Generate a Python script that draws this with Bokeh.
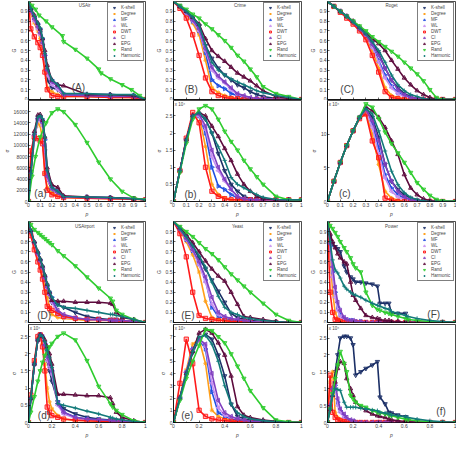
import math
from bokeh.plotting import figure
from bokeh.layouts import row, column
from bokeh.models import FixedTicker, CustomJSTickFormatter, Label, Legend, LegendItem
from bokeh.embed import file_html
from bokeh.resources import INLINE

METHODS = ["K-shell", "Degree", "MF", "WL", "DWT", "CI", "EPG", "Rand", "Harmonic"]
COLORS = {"K-shell": "#1b2f66", "Degree": "#ff9f1a", "MF": "#1f4fe0", "WL": "#c68ff0",
          "DWT": "#ff1a1a", "CI": "#8040c0", "EPG": "#5c0a3c", "Rand": "#2ecc2e", "Harmonic": "#137a7a"}
MARKERS = {"K-shell": "inverted_triangle", "Degree": "asterisk", "MF": "triangle", "WL": "triangle",
           "DWT": "square", "CI": "triangle", "EPG": "triangle", "Rand": "inverted_triangle", "Harmonic": "cross"}
ANGLES = {"K-shell": 0, "Degree": 0, "MF": -math.pi / 2, "WL": math.pi / 2, "DWT": 0,
          "CI": math.pi / 2, "EPG": 0, "Rand": 0, "Harmonic": 0}

G_TICKS = [0, 0.1, 0.2, 0.3, 0.4, 0.5, 0.6, 0.7, 0.8, 0.9]
X_ALL = [0, 0.1, 0.2, 0.3, 0.4, 0.5, 0.6, 0.7, 0.8, 0.9, 1]
X_EVEN = [0, 0.2, 0.4, 0.6, 0.8, 1]
X_ODD = [0.1, 0.3, 0.5, 0.7, 0.9]

# ---------------- USAir ----------------
usair_p = [0, .02, .05, .08, .1, .12, .14, .16, .2, .25, .3, .5, .7, .9, 1]
usair_rand_G_p = [0, .03, .06, .09, .15, .2, .29, .3, .4, .5, .6, .62, .7, .8, .88, .95, 1]
usair_rand_s_p = [0, .03, .06, .1, .15, .2, .25, .3, .4, .5, .6, .7, .8, .9, 1]
usair_G = {
    "K-shell": [1, .9, .82, .75, .68, .55, .4, .2, .12, .1, .04, .03, .03, .02, 0],
    "Degree": [1, .88, .78, .7, .62, .5, .3, .12, .08, .05, .03, .03, .02, .02, 0],
    "MF": [1, .92, .84, .77, .72, .62, .45, .3, .2, .15, .06, .05, .05, .04, 0],
    "WL": [1, .9, .8, .72, .66, .56, .42, .25, .15, .1, .05, .04, .03, .03, 0],
    "DWT": [1, .72, .64, .58, .53, .45, .28, .1, .04, .03, .03, .03, .02, .02, 0],
    "CI": [1, .9, .82, .74, .68, .58, .45, .3, .18, .13, .05, .04, .03, .03, 0],
    "EPG": [1, .93, .86, .78, .72, .62, .5, .35, .2, .15, .14, .05, .05, .04, 0],
    "Rand": [1, .96, .92, .86, .8, .74, .65, .59, .51, .42, .31, .27, .21, .15, .1, .04, 0],
    "Harmonic": [1, .93, .85, .78, .73, .63, .47, .32, .2, .15, .06, .06, .05, .05, 0],
}
usair_s = {
    "K-shell": [0, 5000, 11000, 14500, 15000, 14000, 9000, 4000, 2000, 1500, 800, 700, 600, 500, 300],
    "Degree": [0, 6000, 12000, 14000, 13500, 11000, 5000, 2500, 1500, 1000, 700, 600, 500, 400, 300],
    "MF": [0, 5500, 12000, 15000, 15200, 14500, 11000, 5000, 2500, 1800, 900, 800, 700, 500, 300],
    "WL": [0, 5000, 11500, 14500, 14800, 13500, 9000, 4000, 2200, 1500, 800, 700, 600, 500, 300],
    "DWT": [0, 9000, 11500, 11200, 10800, 10300, 5000, 2000, 1200, 900, 700, 600, 500, 400, 300],
    "CI": [0, 5200, 11800, 14800, 15000, 14000, 10000, 4500, 2300, 1600, 800, 700, 600, 500, 300],
    "EPG": [0, 5500, 12500, 15400, 15500, 14500, 11500, 6000, 3000, 2500, 1000, 800, 700, 500, 300],
    "Rand": [0, 4500, 8000, 11500, 14000, 15800, 16500, 16000, 13700, 10500, 7000, 4000, 1800, 600, 300],
    "Harmonic": [0, 5000, 12000, 15000, 15300, 14800, 11500, 5500, 2500, 1800, 900, 800, 700, 500, 300],
}
usair_s_ticks = [0, 2000, 4000, 6000, 8000, 10000, 12000, 14000, 16000]

# ---------------- Crime ----------------
crime_p = [0, .05, .1, .15, .2, .25, .3, .35, .4, .45, .5, .55, .6, .65, .7, .8, .9, 1]
crime_G = {
    "K-shell": [1, .95, .89, .83, .75, .55, .42, .32, .25, .2, .15, .12, .08, .05, .03, .01, 0, 0],
    "Degree": [1, .94, .87, .78, .66, .4, .12, .07, .04, .02, .01, .01, .01, 0, 0, 0, 0, 0],
    "MF": [1, .95, .88, .8, .7, .48, .2, .14, .11, .06, .04, .02, .01, .01, 0, 0, 0, 0],
    "WL": [1, .95, .88, .8, .7, .5, .3, .22, .17, .1, .05, .03, .02, .01, .01, 0, 0, 0],
    "DWT": [1, .93, .83, .66, .45, .22, .08, .04, .02, .01, .01, 0, 0, 0, 0, 0, 0, 0],
    "CI": [1, .95, .89, .81, .72, .52, .33, .24, .18, .12, .06, .04, .02, .01, .01, 0, 0, 0],
    "EPG": [1, .95, .9, .84, .77, .62, .5, .44, .39, .33, .27, .23, .19, .14, .09, .03, .01, 0],
    "Rand": [1, .96, .92, .87, .83, .77, .72, .66, .6, .53, .45, .39, .31, .23, .13, .06, .03, 0],
    "Harmonic": [1, .95, .9, .84, .76, .56, .38, .3, .25, .21, .18, .15, .12, .09, .07, .04, .02, 0],
}
crime_s = {
    "K-shell": [0, .9, 1.8, 2.5, 2.55, 2.4, 2.0, 1.4, .9, .5, .3, .15, .08, .05, .05, .05, .05, .05],
    "Degree": [0, .9, 1.8, 2.5, 2.5, 1.6, .5, .2, .1, .05, .05, .05, .05, .05, .05, .05, .05, .05],
    "MF": [0, .9, 1.8, 2.5, 2.5, 2.0, 1.0, .45, .35, .2, .1, .06, .05, .05, .05, .05, .05, .05],
    "WL": [0, .9, 1.8, 2.5, 2.5, 2.1, 1.3, .9, .6, .35, .15, .08, .05, .05, .05, .05, .05, .05],
    "DWT": [0, .9, 1.85, 2.6, 2.3, 1.0, .3, .15, .08, .05, .05, .05, .05, .05, .05, .05, .05, .05],
    "CI": [0, .9, 1.8, 2.5, 2.55, 2.2, 1.5, 1.0, .65, .35, .15, .08, .05, .05, .05, .05, .05, .05],
    "EPG": [0, .9, 1.8, 2.5, 2.6, 2.5, 2.2, 1.9, 1.55, 1.2, .8, .5, .3, .15, .08, .05, .05, .05],
    "Rand": [0, .85, 1.7, 2.4, 2.7, 2.8, 2.7, 2.4, 2.05, 1.75, 1.5, 1.2, .95, .72, .5, .15, .05, .05],
    "Harmonic": [0, .9, 1.8, 2.5, 2.6, 2.4, 2.0, 1.6, 1.2, .7, .5, .4, .3, .2, .12, .06, .05, .05],
}
crime_s_ticks = [0, 0.5, 1, 1.5, 2, 2.5]

# ---------------- Roget ----------------
roget_p = [0, .05, .1, .15, .2, .25, .3, .35, .4, .45, .5, .55, .6, .65, .7, .75, .8, .85, .9, 1]
roget_G = {
    "K-shell": [1, .95, .9, .85, .79, .73, .67, .58, .47, .32, .2, .12, .06, .03, .01, 0, 0, 0, 0, 0],
    "Degree": [1, .95, .89, .84, .78, .71, .63, .5, .32, .12, .04, .02, .01, 0, 0, 0, 0, 0, 0, 0],
    "MF": [1, .95, .9, .85, .79, .72, .65, .54, .4, .25, .14, .07, .04, .02, .01, 0, 0, 0, 0, 0],
    "WL": [1, .95, .9, .85, .79, .72, .65, .53, .38, .22, .12, .06, .03, .01, 0, 0, 0, 0, 0, 0],
    "DWT": [1, .95, .89, .83, .77, .7, .61, .45, .28, .08, .02, .01, 0, 0, 0, 0, 0, 0, 0, 0],
    "CI": [1, .95, .9, .85, .79, .72, .66, .56, .45, .32, .2, .1, .05, .02, .01, 0, 0, 0, 0, 0],
    "EPG": [1, .95, .9, .85, .8, .74, .68, .62, .57, .5, .4, .31, .22, .15, .09, .05, .02, 0, 0, 0],
    "Rand": [1, .95, .9, .85, .8, .75, .7, .64, .59, .54, .49, .44, .38, .32, .26, .19, .1, .02, 0, 0],
    "Harmonic": [1, .95, .9, .85, .79, .73, .67, .59, .5, .38, .25, .15, .09, .05, .03, .01, 0, 0, 0, 0],
}
roget_s = {
    "K-shell": [0, 3, 5.8, 8.3, 10.5, 12.5, 13.8, 12.5, 9.5, 5.5, 3, 1.8, 1, .5, .2, 0, 0, 0, 0, 0],
    "Degree": [0, 3, 5.8, 8.3, 10.5, 12.3, 13.2, 10, 5.5, 1.5, .5, .2, 0, 0, 0, 0, 0, 0, 0, 0],
    "MF": [0, 3, 5.8, 8.3, 10.5, 12.4, 13.5, 11.5, 8, 4, 2, 1, .5, .2, 0, 0, 0, 0, 0, 0],
    "WL": [0, 3, 5.8, 8.3, 10.5, 12.4, 13.5, 11, 7, 3.5, 1.5, .7, .3, .1, 0, 0, 0, 0, 0, 0],
    "DWT": [0, 3, 5.8, 8.3, 10.5, 12.3, 13, 9, 6.5, .5, .2, 0, 0, 0, 0, 0, 0, 0, 0, 0],
    "CI": [0, 3, 5.8, 8.3, 10.5, 12.5, 13.7, 12, 9, 5.5, 3, 1.5, .7, .3, .1, 0, 0, 0, 0, 0],
    "EPG": [0, 3, 5.8, 8.3, 10.5, 12.5, 14, 13.5, 12.5, 11, 9, 7, 4, 2, 1, .4, .1, 0, 0, 0],
    "Rand": [0, 3, 5.8, 8.3, 10.5, 12.5, 14.5, 14, 12.3, 10.3, 8.6, 7.2, 5.8, 4.3, 2.8, 1.8, .9, .3, .1, 0],
    "Harmonic": [0, 3, 5.8, 8.3, 10.5, 12.5, 13.8, 13, 10.5, 7.5, 4.5, 2.5, 1.3, .6, .3, .1, 0, 0, 0, 0],
}
roget_s_ticks = [0, 5, 10]

# ---------------- USAirport ----------------
usairport_p = [0, .02, .05, .08, .1, .12, .14, .16, .18, .2, .25, .3, .4, .5, .6, .7, .72, .75, .8, .9, 1]
usairport_G = {
    "K-shell": [1, .9, .78, .67, .6, .52, .42, .33, .26, .2, .18, .15, .1, .06, .04, .03, .03, .03, .02, .01, 0],
    "Degree": [1, .88, .75, .63, .55, .46, .35, .25, .15, .08, .05, .04, .03, .02, .02, .02, .02, .01, .01, .01, 0],
    "MF": [1, .9, .79, .68, .62, .55, .45, .36, .3, .25, .1, .06, .04, .03, .03, .02, .02, .02, .02, .01, 0],
    "WL": [1, .9, .78, .67, .6, .53, .43, .34, .27, .2, .08, .05, .04, .03, .02, .02, .02, .02, .01, .01, 0],
    "DWT": [1, .86, .72, .6, .52, .43, .3, .16, .14, .12, .09, .06, .04, .03, .03, .02, .02, .02, .01, .01, 0],
    "CI": [1, .9, .79, .68, .61, .54, .44, .35, .28, .22, .12, .08, .05, .03, .03, .02, .02, .02, .02, .01, 0],
    "EPG": [1, .91, .8, .7, .63, .56, .47, .38, .3, .22, .21, .21, .2, .2, .2, .19, .18, .1, .05, .03, 0],
    "Rand": [1, .97, .92, .89, .87, .85, .83, .81, .79, .77, .71, .66, .56, .45, .34, .24, .21, .12, .08, .03, 0],
    "Harmonic": [1, .91, .8, .7, .63, .56, .47, .38, .31, .25, .17, .15, .14, .12, .1, .08, .08, .07, .06, .03, 0],
}
usairport_s = {
    "K-shell": [0, .7, 1.7, 2.4, 2.55, 2.45, 2.2, 1.8, 1.5, 1.2, .6, .4, .25, .15, .1, .07, .07, .06, .05, .03, 0],
    "Degree": [0, .75, 1.75, 2.45, 2.5, 2.3, 1.7, 1, .6, .4, .2, .1, .06, .05, .04, .03, .03, .03, .02, .01, 0],
    "MF": [0, .7, 1.7, 2.4, 2.55, 2.5, 2.3, 2, 1.7, 1.5, .6, .3, .15, .1, .08, .06, .06, .05, .04, .02, 0],
    "WL": [0, .7, 1.7, 2.4, 2.55, 2.45, 2.2, 1.8, 1.6, 1.4, .5, .25, .12, .08, .06, .05, .05, .04, .03, .02, 0],
    "DWT": [0, .8, 1.8, 2.5, 2.55, 2.2, 1.5, .45, .3, .2, .15, .1, .07, .05, .04, .03, .03, .03, .02, .01, 0],
    "CI": [0, .7, 1.7, 2.4, 2.55, 2.5, 2.25, 1.9, 1.7, 1.5, .55, .3, .15, .1, .08, .06, .06, .05, .04, .02, 0],
    "EPG": [0, .7, 1.7, 2.4, 2.55, 2.5, 2.4, 2.2, 2, 1.7, .82, .82, .8, .78, .78, .72, .55, .3, .15, .05, 0],
    "Rand": [0, .3, .75, 1.2, 1.5, 1.75, 1.95, 2.1, 2.2, 2.3, 2.5, 2.6, 2.4, 1.8, 1.05, .55, .45, .35, .23, .05, 0],
    "Harmonic": [0, .7, 1.7, 2.4, 2.55, 2.5, 2.35, 2.1, 1.9, 1.6, .55, .5, .42, .33, .25, .15, .13, .1, .08, .03, 0],
}
usairport_s_ticks = [0, 0.5, 1, 1.5, 2, 2.5]

# ---------------- Yeast ----------------
yeast_p = [0, .05, .1, .15, .2, .25, .3, .35, .4, .45, .5, .55, .6, .7, .8, .9, 1]
yeast_G = {
    "K-shell": [1, .93, .84, .75, .64, .53, .42, .31, .2, .09, .05, .03, .02, .01, 0, 0, 0],
    "Degree": [1, .91, .8, .67, .5, .21, .05, .03, .02, .01, .01, 0, 0, 0, 0, 0, 0],
    "MF": [1, .92, .82, .71, .58, .42, .15, .06, .04, .03, .02, .01, .01, 0, 0, 0, 0],
    "WL": [1, .92, .82, .71, .57, .4, .18, .08, .05, .04, .03, .02, .01, 0, 0, 0, 0],
    "DWT": [1, .88, .65, .3, .07, .04, .03, .02, .02, .01, .01, .01, 0, 0, 0, 0, 0],
    "CI": [1, .92, .83, .72, .6, .45, .25, .1, .06, .04, .03, .02, .01, 0, 0, 0, 0],
    "EPG": [1, .94, .87, .79, .7, .61, .53, .46, .41, .3, .18, .06, .05, .03, .01, 0, 0],
    "Rand": [1, .95, .9, .85, .79, .73, .68, .62, .55, .48, .42, .36, .3, .19, .08, .02, 0],
    "Harmonic": [1, .93, .85, .76, .66, .55, .4, .26, .15, .1, .08, .05, .04, .02, .01, 0, 0],
}
yeast_s = {
    "K-shell": [0, 2, 4, 5.7, 6.8, 7.2, 6.8, 5.5, 3.8, 1.5, .5, .3, .2, .1, .05, 0, 0],
    "Degree": [0, 2.1, 4.3, 6.4, 6.8, 4.8, 1, .5, .3, .2, .1, .1, .05, 0, 0, 0, 0],
    "MF": [0, 2, 4.1, 6, 6.8, 6, 2.5, .8, .5, .3, .2, .1, .05, 0, 0, 0, 0],
    "WL": [0, 2, 4.1, 6, 6.8, 6.2, 3.2, 1.2, .6, .4, .3, .2, .1, .05, 0, 0, 0],
    "DWT": [0, 3.2, 6.8, 4.8, 1, .5, .3, .2, .15, .1, .1, .05, 0, 0, 0, 0, 0],
    "CI": [0, 2, 4.1, 6, 6.8, 6.4, 4, 1.8, .8, .5, .3, .2, .1, .05, 0, 0, 0],
    "EPG": [0, 2, 4, 5.8, 7.3, 7.6, 7.3, 6.5, 5.5, 3.8, 1.3, .6, .4, .2, .1, 0, 0],
    "Rand": [0, 1.8, 3.6, 5, 6.3, 7.6, 7.5, 7, 6.5, 5.6, 4.6, 3.6, 2.6, 1.2, .2, .05, 0],
    "Harmonic": [0, 2, 4, 5.8, 7, 7.1, 6.4, 5, 3, 1.5, .8, .5, .3, .15, .05, 0, 0],
}
yeast_s_ticks = [0, 1, 2, 3, 4, 5, 6, 7]

# ---------------- Power ----------------
power_p = [0, .02, .04, .06, .08, .1, .13, .15, .18, .2, .22, .26, .3, .35, .39, .41, .45, .48, .5, .55,
           .61, .63, .7, .8, .9, 1]
power_G = {
    "K-shell": [1, .85, .78, .75, .73, .7, .56, .5, .45, .43, .4, .4, .39, .38, .36, .19, .19, .19, .09, .09,
                .09, .01, 0, 0, 0, 0],
    "Degree": [1, .7, .3, .1, .04, .02, .02, .01, .01, .01, .01, 0, 0, 0, 0, 0, 0, 0, 0, 0,
               0, 0, 0, 0, 0, 0],
    "MF": [1, .75, .5, .3, .15, .08, .04, .03, .02, .02, .01, .01, 0, 0, 0, 0, 0, 0, 0, 0,
           0, 0, 0, 0, 0, 0],
    "WL": [1, .72, .45, .25, .12, .06, .03, .02, .01, .01, .01, 0, 0, 0, 0, 0, 0, 0, 0, 0,
           0, 0, 0, 0, 0, 0],
    "DWT": [1, .3, .1, .03, .02, .01, 0, 0, 0, 0, 0, 0, 0, 0, 0, 0, 0, 0, 0, 0,
            0, 0, 0, 0, 0, 0],
    "CI": [1, .78, .55, .35, .2, .12, .05, .03, .02, .02, .01, .01, 0, 0, 0, 0, 0, 0, 0, 0,
           0, 0, 0, 0, 0, 0],
    "EPG": [1, .88, .8, .74, .68, .64, .6, .58, .4, .27, .22, .14, .07, .05, .04, .03, .02, .02, .01, .01,
            0, 0, 0, 0, 0, 0],
    "Rand": [1, .96, .93, .89, .85, .8, .74, .7, .64, .58, .54, .5, .3, .17, .13, .12, .1, .09, .08, .06,
             .04, .03, .02, .01, 0, 0],
    "Harmonic": [1, .8, .62, .52, .49, .44, .36, .33, .3, .28, .27, .25, .22, .19, .17, .16, .14, .13, .11, .09,
                 .07, .06, .04, .02, .01, 0],
}
power_s = {
    "K-shell": [0, .5, 1, 1.5, 2, 2.5, 2.55, 2.55, 2.5, 2.3, 1.4, 1.5, 1.6, 1.7, 1.8, .75, .55, .3, .28, .22,
                .17, .05, .02, .01, 0, 0],
    "Degree": [0, 1.2, 1.5, .3, .15, .1, .05, .03, .02, .02, .01, 0, 0, 0, 0, 0, 0, 0, 0, 0,
               0, 0, 0, 0, 0, 0],
    "MF": [0, .5, 1, 1.1, .6, .35, .2, .1, .05, .04, .03, 0, 0, 0, 0, 0, 0, 0, 0, 0,
           0, 0, 0, 0, 0, 0],
    "WL": [0, .5, 1, 1.05, .5, .3, .15, .08, .05, 0, 0, 0, 0, 0, 0, 0, 0, 0, 0, 0,
           0, 0, 0, 0, 0, 0],
    "DWT": [0, 1.4, .3, .15, .08, .05, .03, .02, .01, 0, 0, 0, 0, 0, 0, 0, 0, 0, 0, 0,
            0, 0, 0, 0, 0, 0],
    "CI": [0, .5, 1, 1.2, .7, .4, .25, .15, .08, .05, 0, 0, 0, 0, 0, 0, 0, 0, 0, 0,
           0, 0, 0, 0, 0, 0],
    "EPG": [0, .4, .8, 1.2, 1.6, 1.8, 1.75, 1.3, 1, .8, .6, .45, .35, .25, .2, .18, .15, .1, .08, .05,
            .03, .02, 0, 0, 0, 0],
    "Rand": [0, .4, .85, 1.3, 1.7, 2.1, 1.75, 1.5, .8, .7, .6, .5, .45, .35, .3, .28, .25, .22, .2, .15,
             .1, .08, .05, .02, 0, 0],
    "Harmonic": [0, .4, .8, 1, .98, .95, .6, .45, .45, .45, .45, .42, .4, .37, .35, .3, .28, .25, .22, .2,
                 .17, .15, .1, .05, .02, 0],
}
power_s_ticks = [0, 0.5, 1, 1.5, 2, 2.5]

NETWORKS = [
    dict(title="USAir", tx=0.48, col=0, pair=0, p=usair_p, G=usair_G, s=usair_s,
         xoG={"Rand": usair_rand_G_p}, xos={"Rand": usair_rand_s_p},
         s_end=18000, s_ticks=usair_s_ticks, xmaj=X_ALL, xmin=[], exp=None,
         L="(A)", Lpos=(0.37, 0.07), l="(a)", lpos=(0.05, 400)),
    dict(title="Crime", tx=0.52, col=1, pair=0, p=crime_p, G=crime_G, s=crime_s, xoG={}, xos={},
         s_end=2.95, s_ticks=crime_s_ticks, xmaj=X_ALL, xmin=[], exp="x 10\u2074",
         L="(B)", Lpos=(0.085, 0.05), l="(b)", lpos=(0.085, 0.05)),
    dict(title="Roget", tx=0.5, col=2, pair=0, p=roget_p, G=roget_G, s=roget_s, xoG={}, xos={},
         s_end=15, s_ticks=roget_s_ticks, xmaj=X_ALL, xmin=[], exp="x 10\u2074",
         L="(C)", Lpos=(0.1, 0.05), l="(c)", lpos=(0.09, 0.3)),
    dict(title="USAirport", tx=0.48, col=0, pair=1, p=usairport_p, G=usairport_G, s=usairport_s, xoG={}, xos={},
         s_end=2.85, s_ticks=usairport_s_ticks, xmaj=X_EVEN, xmin=X_ODD, exp="x 10\u2074",
         L="(D)", Lpos=(0.075, 0.01), l="(d)", lpos=(0.08, 0.05)),
    dict(title="Yeast", tx=0.5, col=1, pair=1, p=yeast_p, G=yeast_G, s=yeast_s, xoG={}, xos={},
         s_end=8, s_ticks=yeast_s_ticks, xmaj=X_EVEN, xmin=X_ODD, exp="x 10\u2074",
         L="(E)", Lpos=(0.06, 0.01), l="(e)", lpos=(0.06, 0.1)),
    dict(title="Power", tx=0.5, col=2, pair=1, p=power_p, G=power_G, s=power_s, xoG={}, xos={},
         s_end=2.9, s_ticks=power_s_ticks, xmaj=X_EVEN, xmin=X_ODD, exp="x 10\u2074",
         L="(F)", Lpos=(0.78, 0.02), l="(f)", lpos=(0.85, 0.15)),
]

FONT = "Liberation Sans"
COLS = [dict(w=152, bl=20, br=7), dict(w=154, bl=19, br=5), dict(w=150, bl=21, br=1)]
ROWS = [dict(h=100, bt=1, bb=1), dict(h=119, bt=0, bb=17), dict(h=104, bt=2, bb=1), dict(h=117, bt=1, bb=16)]


def fmt():
    return CustomJSTickFormatter(code="return String(Math.round(tick*10)/10);")


def style_axes(fig, xmaj, xmin, yticks, ylabel, show_x):
    xa = fig.xaxis[0]
    ya = fig.yaxis[0]
    xa.ticker = FixedTicker(ticks=xmaj, minor_ticks=xmin)
    ya.ticker = FixedTicker(ticks=yticks)
    for ax in (xa, ya):
        ax.formatter = fmt()
        ax.major_tick_in = 2
        ax.major_tick_out = 0
        ax.minor_tick_in = 1
        ax.minor_tick_out = 0
        ax.axis_line_width = 0.7
        ax.major_tick_line_width = 0.6
        ax.minor_tick_line_width = 0.6
        ax.major_label_text_font = FONT
        ax.major_label_text_font_size = "5px"
        ax.major_label_standoff = 1
        ax.axis_label_text_font = FONT
        ax.axis_label_text_font_size = "5px"
        ax.axis_label_standoff = 1
    ya.axis_label = ylabel
    ya.axis_label_text_font_style = "normal"
    if show_x:
        xa.axis_label = "p"
        xa.axis_label_text_font_style = "italic"
    else:
        xa.major_label_text_font_size = "1px"
        xa.major_label_text_alpha = 0
        xa.major_label_standoff = 0


def make_panel(net, kind):
    c = COLS[net["col"]]
    r = ROWS[net["pair"] * 2 + (0 if kind == "G" else 1)]
    y_end = 1 if kind == "G" else net["s_end"]
    fig = figure(width=c["w"], height=r["h"], x_range=(0, 1), y_range=(0, y_end),
                 output_backend="svg", toolbar_location=None,
                 min_border_left=c["bl"], min_border_right=c["br"],
                 min_border_top=r["bt"], min_border_bottom=r["bb"])
    fig.outline_line_color = "black"
    fig.outline_line_width = 0.7
    fig.outline_line_alpha = 1
    fig.xgrid.visible = False
    fig.ygrid.visible = False
    if kind == "G":
        style_axes(fig, X_ALL, [], G_TICKS, "G", False)
    else:
        style_axes(fig, net["xmaj"], net["xmin"], net["s_ticks"], "\u03c3", True)

    data = net[kind]
    xo = net["xoG"] if kind == "G" else net["xos"]
    items = []
    for m in METHODS:
        xs = xo.get(m, net["p"])
        ys = data[m]
        col = COLORS[m]
        fig.line(xs, ys, line_color=col, line_width=1.6)
        sr = fig.scatter(xs, ys, marker=MARKERS[m], angle=ANGLES[m], size=4.3,
                         line_color=col, fill_color=col, fill_alpha=0.35, line_width=0.9)
        items.append(LegendItem(label=m, renderers=[sr]))

    if kind == "G":
        leg = Legend(items=items, location="top_right", label_text_font=FONT,
                     label_text_font_size="4.5px", glyph_height=5, glyph_width=8,
                     label_height=5, spacing=1, padding=2, margin=1, label_standoff=3,
                     border_line_color="black", border_line_width=0.5, background_fill_alpha=1)
        fig.add_layout(leg)
        fig.add_layout(Label(x=net["tx"], y=0.955, text=net["title"], text_font=FONT,
                             text_font_size="4.5px", text_align="center", text_baseline="middle"))
        lx, ly = net["Lpos"]
        fig.add_layout(Label(x=lx, y=ly, text=net["L"], text_font=FONT, text_font_size="10px",
                             text_baseline="bottom"))
    else:
        lx, ly = net["lpos"]
        fig.add_layout(Label(x=lx, y=ly, text=net["l"], text_font=FONT, text_font_size="10px",
                             text_baseline="bottom"))
        if net["exp"]:
            fig.add_layout(Label(x=0.01, y=y_end, text=net["exp"], text_font=FONT,
                                 text_font_size="4.5px", text_baseline="top", y_offset=-1))
    return fig


col_children = [[], [], []]
for pair in (0, 1):
    for net in NETWORKS:
        if net["pair"] == pair:
            col_children[net["col"]].append(make_panel(net, "G"))
            col_children[net["col"]].append(make_panel(net, "s"))

layout = row(*[column(*ch, spacing=0) for ch in col_children], spacing=0)

with open("out.html", "w") as f:
    f.write(file_html(layout, INLINE))
